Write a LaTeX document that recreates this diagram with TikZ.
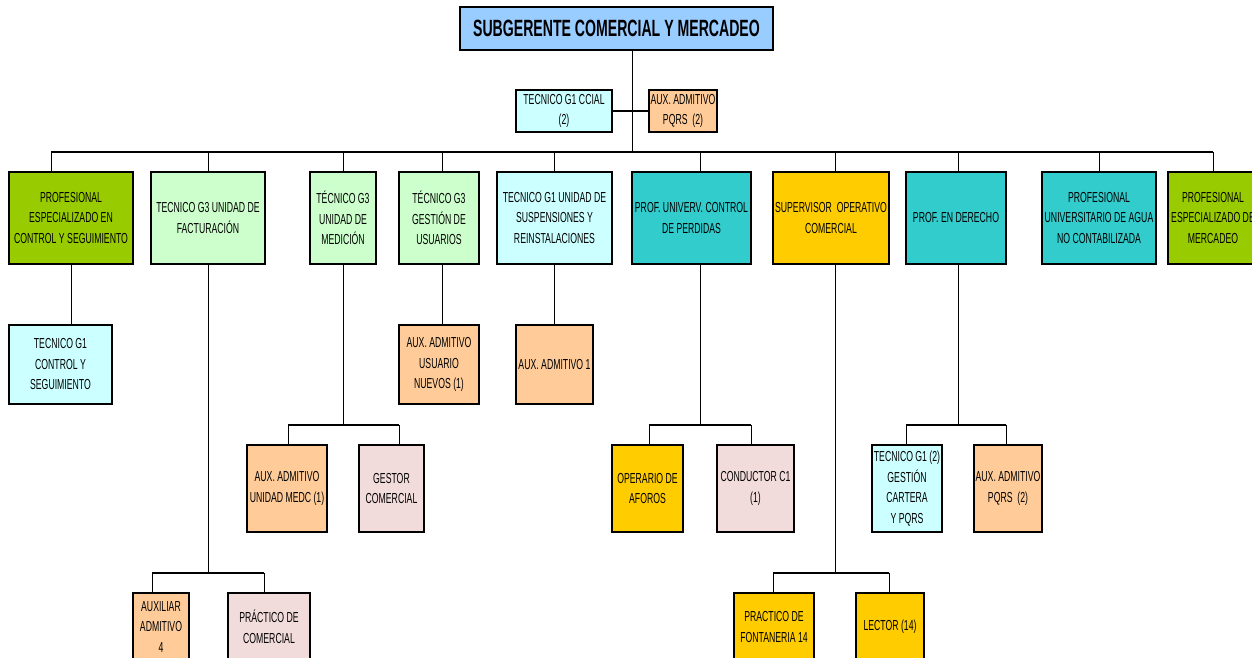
\documentclass[tikz,border=0pt]{standalone}
\usepackage{fontspec}
\setmainfont{Liberation Sans}[FakeStretch=0.6]
\definecolor{cBlue}{HTML}{99CCFF}
\definecolor{cCyan}{HTML}{CCFFFF}
\definecolor{cPeach}{HTML}{FFCC99}
\definecolor{cLGreen}{HTML}{CCFFCC}
\definecolor{cOlive}{HTML}{99CC00}
\definecolor{cTeal}{HTML}{33CCCC}
\definecolor{cYellow}{HTML}{FFCC00}
\definecolor{cPink}{HTML}{F2DCDB}
\tikzset{
  box/.style={draw=black, line width=1.5pt, rectangle, inner sep=0pt, align=center,
    font=\fontsize{14.5}{20.5}\selectfont, text=black},
  conn/.style={line width=1pt},
  bus/.style={line width=1.6pt},
}
\begin{document}
\begin{tikzpicture}[x=1pt,y=1pt]
\useasboundingbox (0,0) rectangle (1252,-658);
\clip (0,0) rectangle (1252,-658);
\fill[white] (0,0) rectangle (1252,-658);

% top
\node[box, fill=cBlue, minimum width=313pt, minimum height=43pt,
  font=\bfseries\fontsize{23.5}{26}\selectfont] (top) at (616.5,-28.5) {SUBGERENTE COMERCIAL Y MERCADEO};
\node[box, fill=cCyan, minimum width=96pt, minimum height=42pt] (ccial) at (564,-111) {TECNICO G1 CCIAL\\(2)};
\node[box, fill=cPeach, minimum width=68pt, minimum height=42pt] (pqrs0) at (683,-111) {AUX. ADMITIVO\\PQRS\ \ (2)};

% level 1
\node[box, fill=cOlive, minimum width=124pt, minimum height=92pt] (pe) at (71,-218) {PROFESIONAL\\ESPECIALIZADO EN\\CONTROL Y SEGUIMIENTO};
\node[box, fill=cLGreen, minimum width=114pt, minimum height=92pt] (fac) at (208,-218) {TECNICO G3 UNIDAD DE\\FACTURACIÓN};
\node[box, fill=cLGreen, minimum width=66pt, minimum height=92pt] (med) at (343,-218) {TÉCNICO G3\\UNIDAD DE\\MEDICIÓN};
\node[box, fill=cLGreen, minimum width=80pt, minimum height=92pt] (gus) at (439,-218) {TÉCNICO G3\\GESTIÓN DE\\USUARIOS};
\node[box, fill=cCyan, minimum width=115pt, minimum height=92pt] (sus) at (554.5,-218) {TECNICO G1 UNIDAD DE\\SUSPENSIONES Y\\REINSTALACIONES};
\node[box, fill=cTeal, minimum width=119pt, minimum height=92pt] (per) at (691.5,-218) {PROF. UNIVERV. CONTROL\\DE PERDIDAS};
\node[box, fill=cYellow, minimum width=116pt, minimum height=92pt] (sup) at (831,-218) {SUPERVISOR\ \ OPERATIVO\\COMERCIAL};
\node[box, fill=cTeal, minimum width=100pt, minimum height=92pt] (der) at (956,-218) {PROF. EN DERECHO};
\node[box, fill=cTeal, minimum width=114pt, minimum height=92pt] (agua) at (1099,-218) {PROFESIONAL\\UNIVERSITARIO DE AGUA\\NO CONTABILIZADA};
\node[box, fill=cOlive, minimum width=90pt, minimum height=92pt] (mer) at (1213,-218) {PROFESIONAL\\ESPECIALIZADO DE\\MERCADEO};

% level 2
\node[box, fill=cCyan, minimum width=103pt, minimum height=79pt] (tcs) at (60.5,-364.5) {TECNICO G1\\CONTROL Y\\SEGUIMIENTO};
\node[box, fill=cPeach, minimum width=80pt, minimum height=79pt] (aun) at (439,-364.5) {AUX. ADMITIVO\\USUARIO\\NUEVOS (1)};
\node[box, fill=cPeach, minimum width=77pt, minimum height=79pt] (aa1) at (554.5,-364.5) {AUX. ADMITIVO 1};

% level 3
\node[box, fill=cPeach, minimum width=80pt, minimum height=87pt] (aum) at (287,-488.5) {AUX. ADMITIVO\\UNIDAD MEDC (1)};
\node[box, fill=cPink, minimum width=65pt, minimum height=87pt] (ges) at (391.5,-488.5) {GESTOR\\COMERCIAL};
\node[box, fill=cYellow, minimum width=71pt, minimum height=87pt] (afo) at (647.5,-488.5) {OPERARIO DE\\AFOROS};
\node[box, fill=cPink, minimum width=77pt, minimum height=87pt] (con) at (755.5,-488.5) {CONDUCTOR C1\\(1)};
\node[box, fill=cCyan, minimum width=70pt, minimum height=87pt] (tgc) at (907,-488.5) {TECNICO G1 (2)\\GESTIÓN\\CARTERA\\Y PQRS};
\node[box, fill=cPeach, minimum width=68pt, minimum height=87pt] (apq) at (1008,-488.5) {AUX. ADMITIVO\\PQRS\ \ (2)};

% level 4
\node[box, fill=cPeach, minimum width=56pt, minimum height=68pt] (aux4) at (161,-627) {AUXILIAR\\ADMITIVO\\4};
\node[box, fill=cPink, minimum width=82pt, minimum height=68pt] (pco) at (269,-627) {PRÁCTICO DE\\COMERCIAL};
\node[box, fill=cYellow, minimum width=80pt, minimum height=68pt] (fon) at (774,-627) {PRACTICO DE\\FONTANERIA 14};
\node[box, fill=cYellow, minimum width=68pt, minimum height=68pt] (lec) at (890,-627) {LECTOR (14)};

% connectors: top
\coordinate (trunk) at (632,-152);
\draw[conn] (top.south -| trunk) -- (trunk);
\draw[bus] (ccial.east) -- (pqrs0.west);
\coordinate (bL) at (51,-152);
\coordinate (bR) at (1213,-152);
\draw[bus] (bL) -- (bR);
\foreach \x/\n in {51/pe,208/fac,343/med,442/gus,554.5/sus,700/per,835/sup,958/der,1099/agua,1213/mer}{
  \coordinate (j\n) at (\x,-152);
  \draw[conn] (j\n) -- (j\n |- \n.north);
}
% level 1 -> level 2
\coordinate (kpe) at (71,-264);
\draw[conn] (kpe) -- (kpe |- tcs.north);
\coordinate (kgus) at (442,-264);
\draw[conn] (kgus) -- (kgus |- aun.north);
\draw[conn] (sus.south) -- (aa1.north);

% facturacion
\coordinate (fj) at (208,-573);
\draw[conn] (fac.south) -- (fj);
\coordinate (fa) at (152,-573);
\coordinate (fb) at (264,-573);
\draw[bus] (fa) -- (fb);
\draw[conn] (fa) -- (fa |- aux4.north);
\draw[conn] (fb) -- (fb |- pco.north);

% medicion
\coordinate (mj) at (343,-425);
\draw[conn] (med.south) -- (mj);
\coordinate (ma) at (288,-425);
\coordinate (mb) at (399,-425);
\draw[bus] (ma) -- (mb);
\draw[conn] (ma) -- (ma |- aum.north);
\draw[conn] (mb) -- (mb |- ges.north);

% perdidas
\coordinate (pj) at (700,-425);
\draw[conn] (per.south -| pj) -- (pj);
\coordinate (pa) at (649,-425);
\coordinate (pb) at (751,-425);
\draw[bus] (pa) -- (pb);
\draw[conn] (pa) -- (pa |- afo.north);
\draw[conn] (pb) -- (pb |- con.north);

% supervisor
\coordinate (sj) at (835,-573);
\draw[conn] (sup.south -| sj) -- (sj);
\coordinate (sa) at (773,-573);
\coordinate (sb) at (889,-573);
\draw[bus] (sa) -- (sb);
\draw[conn] (sa) -- (sa |- fon.north);
\draw[conn] (sb) -- (sb |- lec.north);

% derecho
\coordinate (dj) at (958,-425);
\draw[conn] (der.south -| dj) -- (dj);
\coordinate (da) at (906,-425);
\coordinate (db) at (1006,-425);
\draw[bus] (da) -- (db);
\draw[conn] (da) -- (da |- tgc.north);
\draw[conn] (db) -- (db |- apq.north);
\end{tikzpicture}
\end{document}
